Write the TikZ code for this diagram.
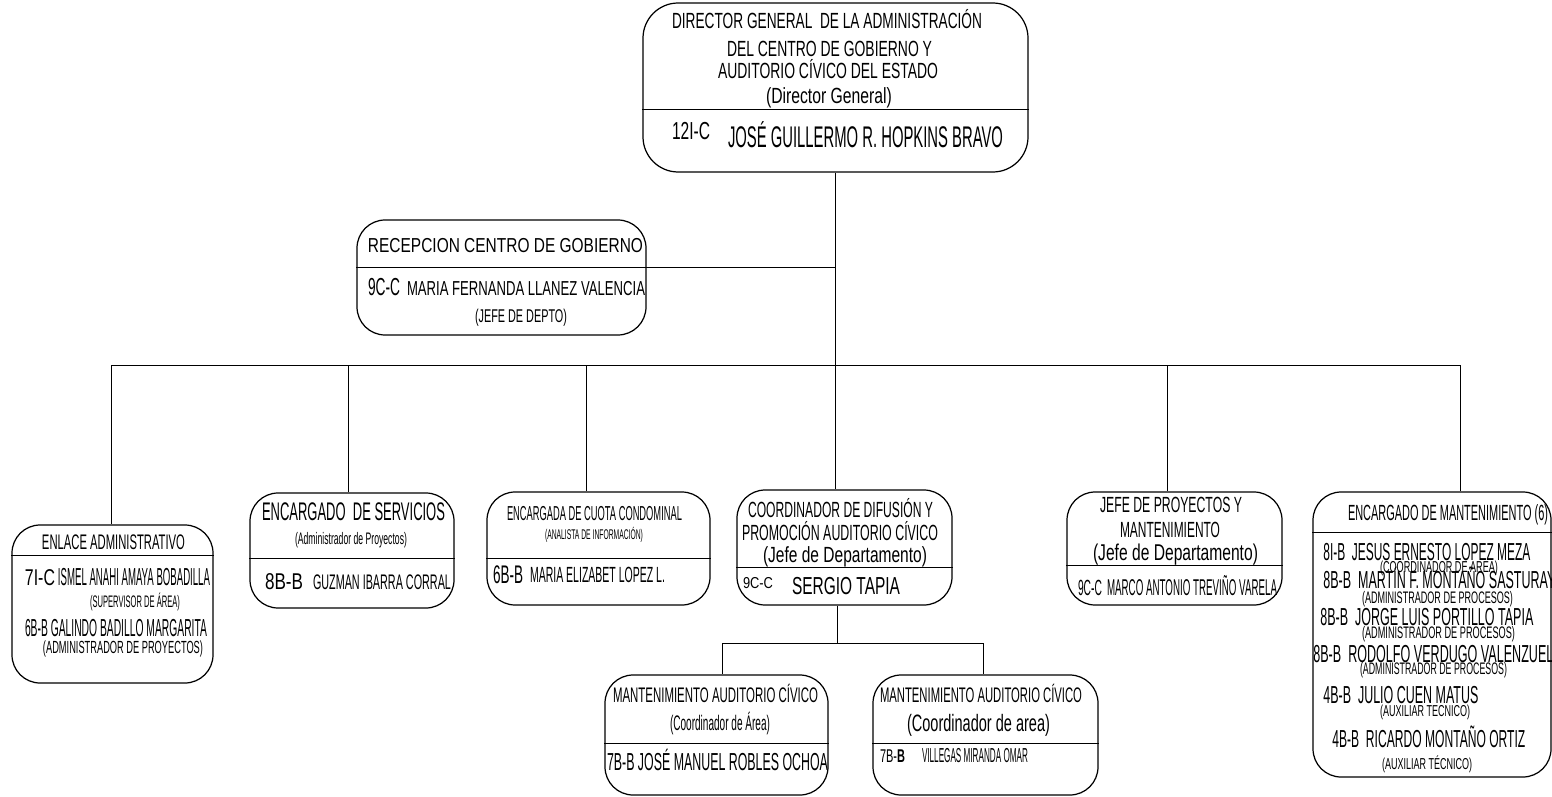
\documentclass[tikz,border=0pt]{standalone}
\usepackage{fontspec}
\setmainfont{Liberation Sans}
\usepackage{graphicx}
\usetikzlibrary{fit}

\newlength\pxu
\setlength\pxu{0.02cm}
\newcommand\tx[2]{\resizebox{#1\pxu}{\height}{#2}}
\newcommand\fsz[1]{\fontsize{#1}{#1}\selectfont}

\tikzset{
  box/.style={draw, rounded corners=16pt, inner sep=0pt, line width=0.7pt},
  lbl/.style={inner sep=0pt, anchor=base},
  lblw/.style={inner sep=0pt, anchor=base west},
  link/.style={line width=0.5pt},
}

\begin{document}
\begin{tikzpicture}[x=0.02cm, y=-0.02cm]
\useasboundingbox (0,0) rectangle (1552,797);

% Boxes
\node[box, rounded corners=20pt, fit={(643,3) (1028,172)}] (dir) {};
\node[box, fit={(357,220) (646,335)}] (rec) {};
\node[box, fit={(12,525) (213,683)}] (enl) {};
\node[box, fit={(250,493) (454,608)}] (srv) {};
\node[box, fit={(487,492) (710,605)}] (cuo) {};
\node[box, fit={(737,490) (952,605)}] (crd) {};
\node[box, fit={(1067,492) (1282,605)}] (jef) {};
\node[box, fit={(1313,492) (1551,777)}] (mnt) {};
\node[box, fit={(605,675) (828,795)}] (man1) {};
\node[box, fit={(873,675) (1098,795)}] (man2) {};

% Dividers
\draw (dir.west |- 0,109) -- (dir.east |- 0,109);
\draw (enl.west |- 0,555) -- (enl.east |- 0,555);
\draw (srv.west |- 0,558) -- (srv.east |- 0,558);
\draw (cuo.west |- 0,558) -- (cuo.east |- 0,558);
\draw (crd.west |- 0,567) -- (crd.east |- 0,567);
\draw (jef.west |- 0,565) -- (jef.east |- 0,565);
\draw (mnt.west |- 0,532) -- (mnt.east |- 0,532);
\draw (man1.west |- 0,743) -- (man1.east |- 0,743);
\draw (man2.west |- 0,743) -- (man2.east |- 0,743);

% Director
\node[lbl, font=\fsz{12.5}] (dir1) at (827,29) {\tx{310}{DIRECTOR GENERAL\ \ DE LA ADMINISTRACIÓN}};
\node[lbl, font=\fsz{12.5}] (dir2) at (829.5,57) {\tx{205}{DEL CENTRO DE GOBIERNO Y}};
\node[lbl, font=\fsz{12.5}] (dir3) at (828,79) {\tx{220}{AUDITORIO CÍVICO DEL ESTADO}};
\node[lbl, font=\fsz{12.5}] (dir4) at (829,104) {\tx{126}{(Director General)}};
\node[lbl, font=\fsz{14}] (dirc) at (691,140) {\tx{38}{12I-C}};
\node[lbl, font=\fsz{17}] (dirn) at (865.5,148) {\tx{275}{JOSÉ GUILLERMO R. HOPKINS BRAVO}};

% Recepcion
\node[lbl, font=\fsz{11.5}] (rec1) at (505.5,253) {\tx{275}{RECEPCION CENTRO DE GOBIERNO}};
\node[lbl, font=\fsz{14}] (recc) at (384,296) {\tx{32}{9C-C}};
\node[lbl, font=\fsz{11.5}] (recn) at (526,296) {\tx{238}{MARIA FERNANDA LLANEZ VALENCIA}};
\node[lbl, font=\fsz{10.5}] (recr) at (521,322) {\tx{92}{(JEFE DE DEPTO)}};

% Enlace
\node[lbl, font=\fsz{12}] (enl1) at (113.5,549) {\tx{143}{ENLACE ADMINISTRATIVO}};
\node[lbl, font=\fsz{13}] (enlc) at (40,585) {\tx{30}{7I-C}};
\node[lbl, font=\fsz{14}] (enln) at (134,585) {\tx{152}{ISMEL ANAHI AMAYA BOBADILLA}};
\node[lbl, font=\fsz{9.5}] (enlr) at (135,607) {\tx{90}{(SUPERVISOR DE ÁREA)}};
\node[lbl, font=\fsz{14}] (enl2) at (116,636) {\tx{182}{6B-B GALINDO BADILLO MARGARITA}};
\node[lbl, font=\fsz{10}] (enl2r) at (123,653) {\tx{160}{(ADMINISTRADOR DE PROYECTOS)}};

% Servicios
\node[lbl, font=\fsz{14.5}] (srv1) at (353.5,520) {\tx{183}{ENCARGADO\ \ DE SERVICIOS}};
\node[lbl, font=\fsz{9.5}] (srvr) at (351,544) {\tx{112}{(Administrador de Proyectos)}};
\node[lbl, font=\fsz{13}] (srvc) at (284,589) {\tx{38}{8B-B}};
\node[lbl, font=\fsz{12}] (srvn) at (382,589) {\tx{138}{GUZMAN IBARRA CORRAL}};

% Cuota
\node[lbl, font=\fsz{11.5}] (cuo1) at (594.5,520) {\tx{175}{ENCARGADA DE CUOTA CONDOMINAL}};
\node[lbl, font=\fsz{8}] (cuor) at (594,539) {\tx{98}{(ANALISTA DE INFORMACIÓN)}};
\node[lbl, font=\fsz{14.5}] (cuoc) at (508,583) {\tx{30}{6B-B}};
\node[lbl, font=\fsz{12.5}] (cuon) at (597.5,582) {\tx{135}{MARIA ELIZABET LOPEZ L.}};

% Coordinador
\node[lbl, font=\fsz{12.5}] (crd1) at (840.5,517) {\tx{185}{COORDINADOR DE DIFUSIÓN Y}};
\node[lbl, font=\fsz{12.5}] (crd2) at (840,540) {\tx{196}{PROMOCIÓN AUDITORIO CÍVICO}};
\node[lbl, font=\fsz{12.5}] (crd3) at (845,562) {\tx{164}{(Jefe de Departamento)}};
\node[lbl, font=\fsz{9}] (crdc) at (758,588) {\tx{30}{9C-C}};
\node[lbl, font=\fsz{14}] (crdn) at (846,594) {\tx{108}{SERGIO TAPIA}};

% Jefe de proyectos
\node[lbl, font=\fsz{12.5}] (jef1) at (1171,512) {\tx{142}{JEFE DE PROYECTOS Y}};
\node[lbl, font=\fsz{12.5}] (jef2) at (1170,537) {\tx{100}{MANTENIMIENTO}};
\node[lbl, font=\fsz{13}] (jef3) at (1175.5,560) {\tx{165}{(Jefe de Departamento)}};
\node[lbl, font=\fsz{12.5}] (jefc) at (1090,595) {\tx{24}{9C-C}};
\node[lbl, font=\fsz{13}] (jefn) at (1192,595) {\tx{170}{MARCO ANTONIO TREVIÑO VARELA}};

% Mantenimiento
\node[lbl, font=\fsz{12.5}] (mnt0) at (1448,520) {\tx{200}{ENCARGADO DE MANTENIMIENTO (6)}};
\node[lblw, font=\fsz{14}] (mnt1) at (1323,560) {\tx{207}{8I-B\ \ JESUS ERNESTO LOPEZ MEZA}};
\node[lbl, font=\fsz{9}] (mnt1r) at (1439,572) {\tx{118}{(COORDINADOR DE AREA)}};
\node[lblw, font=\fsz{14}] (mnt2) at (1323,588) {\tx{232}{8B-B\ \ MARTÍN F. MONTAÑO SASTURAY}};
\node[lbl, font=\fsz{9.5}] (mnt2r) at (1437.5,603) {\tx{151}{(ADMINISTRADOR DE PROCESOS)}};
\node[lblw, font=\fsz{14}] (mnt3) at (1320,625) {\tx{213}{8B-B\ \ JORGE LUIS PORTILLO TAPIA}};
\node[lbl, font=\fsz{9.5}] (mnt3r) at (1438.5,638) {\tx{153}{(ADMINISTRADOR DE PROCESOS)}};
\node[lblw, font=\fsz{14}] (mnt4) at (1313,662) {\tx{240}{8B-B\ \ RODOLFO VERDUGO VALENZUEL}};
\node[lbl, font=\fsz{9.5}] (mnt4r) at (1433.5,674) {\tx{147}{(ADMINISTRADOR DE PROCESOS)}};
\node[lblw, font=\fsz{14}] (mnt5) at (1323,703) {\tx{155}{4B-B\ \ JULIO CUEN MATUS}};
\node[lbl, font=\fsz{9}] (mnt5r) at (1425,716) {\tx{90}{(AUXILIAR TECNICO)}};
\node[lblw, font=\fsz{14}] (mnt6) at (1332,747) {\tx{193}{4B-B\ \ RICARDO MONTAÑO ORTIZ}};
\node[lbl, font=\fsz{9}] (mnt6r) at (1427,769) {\tx{90}{(AUXILIAR TÉCNICO)}};

% Mantenimiento auditorio
\node[lbl, font=\fsz{12}] (man11) at (715.5,702) {\tx{205}{MANTENIMIENTO AUDITORIO CÍVICO}};
\node[lbl, font=\fsz{12}] (man1r) at (720,730) {\tx{100}{(Coordinador de Área)}};
\node[lbl, font=\fsz{14}] (man1n) at (717.5,770) {\tx{221}{7B-B JOSÉ MANUEL ROBLES OCHOA}};
\node[lbl, font=\fsz{12}] (man21) at (981,702) {\tx{202}{MANTENIMIENTO AUDITORIO CÍVICO}};
\node[lbl, font=\fsz{13.5}] (man2r) at (978.5,731) {\tx{143}{(Coordinador de area)}};
\node[lbl, font=\fsz{10.5}] (man2c) at (892.5,762) {\tx{25}{7B-\textbf{B}}};
\node[lbl, font=\fsz{11.5}] (man2n) at (975,762) {\tx{106}{VILLEGAS MIRANDA OMAR}};

% Junctions
\coordinate (rj) at (dir.south |- 0,267);
\coordinate (b1) at (111,365);
\coordinate (b2) at (348,365);
\coordinate (b3) at (586,365);
\coordinate (b5) at (1167,365);
\coordinate (b6) at (1460,365);
\coordinate (s0) at (837,643);
\coordinate (s1) at (722,643);
\coordinate (s2) at (983,643);

%Lines
\draw[link] (dir.south) -- (dir.south |- crd.north);
\draw[link] (rec.west |- rj) -- (rj);
\draw[link] (b1) -- (b6);
\draw[link] (b1) -- (b1 |- enl.north);
\draw[link] (b2) -- (b2 |- srv.north);
\draw[link] (b3) -- (b3 |- cuo.north);
\draw[link] (b5) -- (b5 |- jef.north);
\draw[link] (b6) -- (b6 |- mnt.north);
\draw[link] (s0 |- crd.south) -- (s0);
\draw[link] (s1) -- (s2);
\draw[link] (s1) -- (s1 |- man1.north);
\draw[link] (s2) -- (s2 |- man2.north);
\end{tikzpicture}
\end{document}
